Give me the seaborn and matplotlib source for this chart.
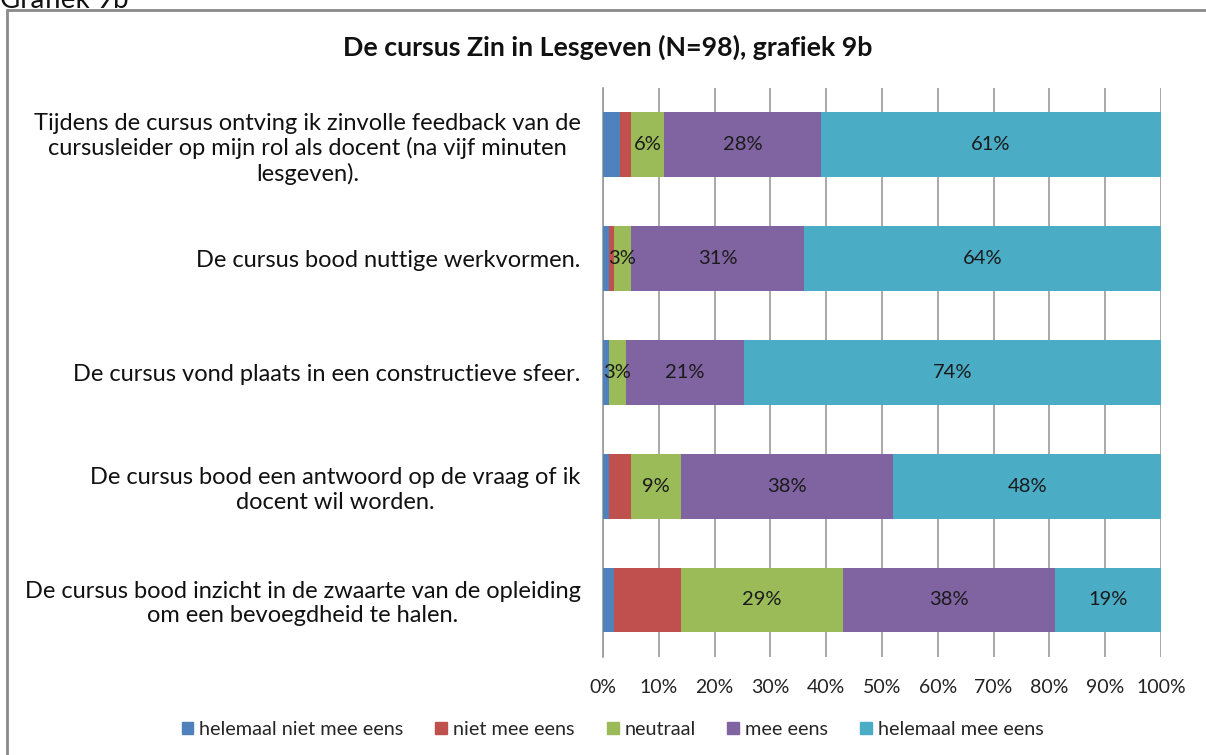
import numpy as np
import pandas as pd
import matplotlib
matplotlib.use('Agg')
import matplotlib.pyplot as plt
import matplotlib.patches as mpatches
from matplotlib.ticker import PercentFormatter
import seaborn as sns

# data (percent)
statements = [
    'Tijdens de cursus ontving ik zinvolle feedback van de\ncursusleider op mijn rol als docent (na vijf minuten\nlesgeven).',
    'De cursus bood nuttige werkvormen.',
    'De cursus vond plaats in een constructieve sfeer.',
    'De cursus bood een antwoord op de vraag of ik\ndocent wil worden.',
    'De cursus bood inzicht in de zwaarte van de opleiding\nom een bevoegdheid te halen.',
]
answers = ['helemaal niet mee eens', 'niet mee eens', 'neutraal', 'mee eens', 'helemaal mee eens']
helemaal_niet = [3, 1, 1, 1, 2]
niet_mee_eens = [2, 1, 0, 4, 12]
neutraal = [6, 3, 3, 9, 29]
mee_eens = [28, 31, 21, 38, 38]
helemaal_mee_eens = [61, 64, 74, 48, 19]
labelled = ['neutraal', 'mee eens', 'helemaal mee eens']

colors = ['#4F81BD', '#C0504D', '#9BBB59', '#8064A2', '#4BACC6']

sns.set_style('white')
plt.rcParams['font.family'] = ['Lato', 'DejaVu Sans']

df = pd.DataFrame({'stelling': statements,
                   answers[0]: helemaal_niet, answers[1]: niet_mee_eens,
                   answers[2]: neutraal, answers[3]: mee_eens,
                   answers[4]: helemaal_mee_eens})
raw = df[answers].astype(float)
# widths normalised so each bar fills 100% (rounded data may not add up)
vals = raw.div(raw.sum(axis=1), axis=0)
cum = vals.cumsum(axis=1)

fig = plt.figure(figsize=(12.06, 7.55), dpi=100)
ax = fig.add_axes([0.5, 0.13, 0.4627, 0.7534])

# stacked bars: draw cumulative totals from widest to narrowest
for i in range(len(answers) - 1, -1, -1):
    sns.barplot(x=cum[answers[i]].values, y=df['stelling'], orient='h',
                color=colors[i], width=0.57, ax=ax, saturation=1,
                edgecolor='none', linewidth=0, zorder=3)

# value labels for the last three categories
for j in range(len(statements)):
    start = 0.0
    for k, name in enumerate(answers):
        w = vals.iloc[j, k]
        if name in labelled and w > 0:
            ax.text(start + w / 2, j, f'{raw.iloc[j, k]:.0f}%', ha='center', va='center',
                    fontsize=14.5, color='#1a1a1a', zorder=4)
        start += w

ax.set_xlim(0, 1)
ax.set_xticks(np.linspace(0, 1, 11))
ax.xaxis.set_major_formatter(PercentFormatter(1.0, decimals=0))
ax.grid(axis='x', color='#9a9a9a', linewidth=1.2, zorder=0)
ax.set_axisbelow(True)
for s in ['top', 'right', 'bottom']:
    ax.spines[s].set_visible(False)
ax.spines['left'].set_color('#9a9a9a')
ax.spines['left'].set_linewidth(1.2)
ax.tick_params(axis='x', length=0, pad=16, labelsize=14, colors='#222222')
ax.tick_params(axis='y', length=0, pad=16, labelsize=17, colors='#111111')
for lab in ax.get_yticklabels():
    lab.set_multialignment('center')
ax.set_xlabel('')
ax.set_ylabel('')

fig.text(0.504, 0.937, 'De cursus Zin in Lesgeven (N=98), grafiek 9b', ha='center', va='center',
         fontsize=19.3, fontweight='bold', color='#111111')
fig.text(0.0, 1.0, 'Grafiek 9b', ha='left', va='center', fontsize=20, color='#111111')

# outer chart frame (right and bottom edges run off the image)
fig.patches.append(mpatches.Rectangle((7 / 1206, -0.05), 1.1, 1 - 10 / 755 + 0.05,
                                      transform=fig.transFigure, fill=False,
                                      edgecolor='#8a8a8a', linewidth=2))

handles = [mpatches.Patch(color=c) for c in colors]
fig.legend(handles, answers, loc='center', bbox_to_anchor=(0.508, 0.034), ncol=5,
           frameon=False, fontsize=14.3, handlelength=0.6, handleheight=0.6,
           handletextpad=0.3, columnspacing=1.6)

fig.savefig('out.png', dpi=100)
